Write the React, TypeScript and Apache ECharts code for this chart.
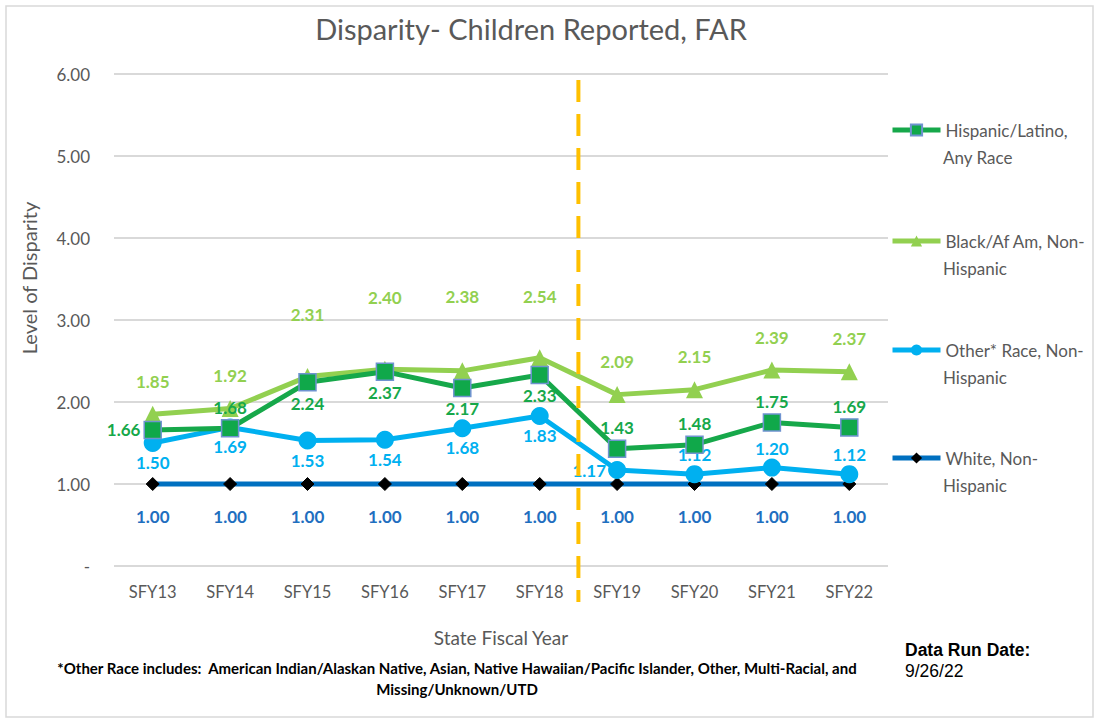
import React, { useEffect, useRef } from "react";
import * as echarts from "echarts";

const categories = ["SFY13", "SFY14", "SFY15", "SFY16", "SFY17", "SFY18", "SFY19", "SFY20", "SFY21", "SFY22"];
const hispanic = [1.66, 1.68, 2.24, 2.37, 2.17, 2.33, 1.43, 1.48, 1.75, 1.69];
const black = [1.85, 1.92, 2.31, 2.4, 2.38, 2.54, 2.09, 2.15, 2.39, 2.37];
const other = [1.5, 1.69, 1.53, 1.54, 1.68, 1.83, 1.17, 1.12, 1.2, 1.12];
const white = [1.0, 1.0, 1.0, 1.0, 1.0, 1.0, 1.0, 1.0, 1.0, 1.0];
const seriesNames = ["Hispanic/Latino,\nAny Race", "Black/Af Am, Non-\nHispanic", "Other* Race, Non-\nHispanic", "White, Non-\nHispanic"];
const yTicks = [0, 1, 2, 3, 4, 5, 6];

// label placement (styling)
const hispPos = ["left", "top", "bottom", "bottom", "bottom", "bottom", "top", "top", "top", "top"];
const otherPos = ["bottom", "bottom", "bottom", "bottom", "bottom", "bottom", "left", "top", "top", "top"];
const blackLift = [0, 0, 29, 39, 41, 28, 0, 0, 0, 0];

const FONT = "Lato, 'Open Sans', sans-serif";
const COLORS = ["#16a84a", "#92d050", "#00b0f0", "#0070c0"];
const LEGEND_Y = [130, 241, 350, 458];

export default function App() {
  const ref = useRef<HTMLDivElement>(null);
  useEffect(() => {
    if (!ref.current) return;
    const chart = echarts.init(ref.current, null, { renderer: "svg" });
    const lbl = (color: string) => ({
      show: true,
      color,
      fontSize: 17,
      fontWeight: "bold",
      fontFamily: FONT,
      formatter: (p: any) => Number(p.value).toFixed(2),
    });
    const legends = seriesNames.map((n, i) => ({
      orient: "vertical",
      left: 885,
      top: LEGEND_Y[i] - 16,
      itemWidth: 48,
      itemHeight: 14,
      itemGap: 5,
      lineStyle: { width: 5 },
      textStyle: { color: "#595959", fontSize: 17, fontFamily: FONT, lineHeight: 22 },
      formatter: (name: string) => name.split("\n")[0],
      data: [n],
    }));
    const option: any = {
      animation: false,
      backgroundColor: "#ffffff",
      textStyle: { fontFamily: FONT },
      title: {
        text: "Disparity- Children Reported, FAR",
        left: 526,
        textAlign: "center",
        top: 9,
        textStyle: { fontSize: 29, fontWeight: "normal", color: "#595959", fontFamily: FONT },
      },
      legend: legends,
      grid: { left: 114, right: 211, top: 74, bottom: 157 },
      xAxis: {
        type: "category",
        data: categories,
        boundaryGap: true,
        axisLine: { show: false },
        axisTick: { show: false },
        axisLabel: { color: "#595959", fontSize: 16.5, margin: 17, fontFamily: FONT },
        name: "State Fiscal Year",
        nameLocation: "middle",
        nameGap: 62,
        nameTextStyle: { color: "#595959", fontSize: 19, fontFamily: FONT },
      },
      yAxis: {
        type: "value",
        min: yTicks[0],
        max: yTicks[yTicks.length - 1],
        interval: 1,
        axisLine: { show: false },
        axisTick: { show: false },
        splitLine: { lineStyle: { color: "#d9d9d9", width: 2 } },
        axisLabel: {
          color: "#595959",
          fontSize: 17,
          margin: 24,
          fontFamily: FONT,
          formatter: (v: number) => (v === 0 ? "-" : v.toFixed(2)),
        },
      },
      series: [
        {
          name: seriesNames[0],
          type: "line",
          z: 4,
          data: hispanic.map((v, i) => ({ value: v, label: { position: hispPos[i] } })),
          lineStyle: { color: COLORS[0], width: 5 },
          itemStyle: { color: "#10a84a", borderColor: "#6f93d0", borderWidth: 1.5 },
          symbol: "rect",
          symbolSize: 17,
          label: { ...lbl(COLORS[0]), distance: 3 },
        },
        {
          name: seriesNames[1],
          type: "line",
          z: 3,
          data: black.map((v, i) => ({ value: v, label: { offset: [0, -blackLift[i]] } })),
          lineStyle: { color: COLORS[1], width: 5 },
          itemStyle: { color: COLORS[1] },
          symbol: "triangle",
          symbolSize: 17,
          label: { ...lbl(COLORS[1]), position: "top", distance: 16 },
        },
        {
          name: seriesNames[2],
          type: "line",
          z: 3,
          data: other.map((v, i) => ({ value: v, label: { position: otherPos[i] } })),
          lineStyle: { color: COLORS[2], width: 5 },
          itemStyle: { color: COLORS[2] },
          symbol: "circle",
          symbolSize: 18,
          label: { ...lbl(COLORS[2]), distance: 2 },
        },
        {
          name: seriesNames[3],
          type: "line",
          z: 2,
          data: white,
          lineStyle: { color: COLORS[3], width: 5 },
          itemStyle: { color: "#000000", borderColor: "#000000" },
          symbol: "diamond",
          symbolSize: 13,
          label: { ...lbl("#1f6fbf"), position: "bottom", distance: 17 },
        },
      ],
    };
    chart.setOption(option);
    const x18 = chart.convertToPixel({ xAxisIndex: 0 }, categories[5]) as number;
    const x19 = chart.convertToPixel({ xAxisIndex: 0 }, categories[6]) as number;
    const xm = (x18 + x19) / 2;
    const secondLines = seriesNames.map((n, i) => ({
      type: "text",
      x: 943,
      y: LEGEND_Y[i] + 27,
      style: {
        text: n.split("\n")[1],
        fill: "#595959",
        font: `17px ${FONT}`,
        verticalAlign: "middle",
      },
    }));
    chart.setOption({
      graphic: [
        {
          type: "rect",
          shape: { x: 6, y: 6, width: 1087, height: 711 },
          style: { fill: "none", stroke: "#d9d9d9", lineWidth: 1.5 },
          silent: true,
        },
        {
          type: "line",
          z: 10,
          shape: { x1: xm, y1: 80, x2: xm, y2: 602 },
          style: { stroke: "#ffc000", lineWidth: 4, lineDash: [22, 12] },
          silent: true,
        },
        {
          type: "text",
          x: 29,
          y: 278,
          rotation: Math.PI / 2,
          style: {
            text: "Level of Disparity",
            fill: "#595959",
            font: `20px ${FONT}`,
            align: "center",
            verticalAlign: "middle",
          },
        },
        ...secondLines,
        {
          type: "text",
          x: 457,
          y: 657,
          style: {
            text: "*Other Race includes:  American Indian/Alaskan Native, Asian, Native Hawaiian/Pacific Islander, Other, Multi-Racial, and\nMissing/Unknown/UTD",
            align: "center",
            fill: "#000000",
            font: "bold 15px Lato, sans-serif",
            lineHeight: 21,
          },
        },
        {
          type: "text",
          x: 905,
          y: 650,
          style: {
            text: "Data Run Date:",
            fill: "#000000",
            font: "bold 17.5px 'Liberation Sans', Arial, sans-serif",
            verticalAlign: "middle",
          },
        },
        {
          type: "text",
          x: 905,
          y: 671,
          style: {
            text: "9/26/22",
            fill: "#000000",
            font: "17.5px 'Liberation Sans', Arial, sans-serif",
            verticalAlign: "middle",
          },
        },
      ],
    });
    return () => chart.dispose();
  }, []);
  return <div ref={ref} style={{ position: "fixed", left: 0, top: 0, width: 1099, height: 723 }} />;
}
